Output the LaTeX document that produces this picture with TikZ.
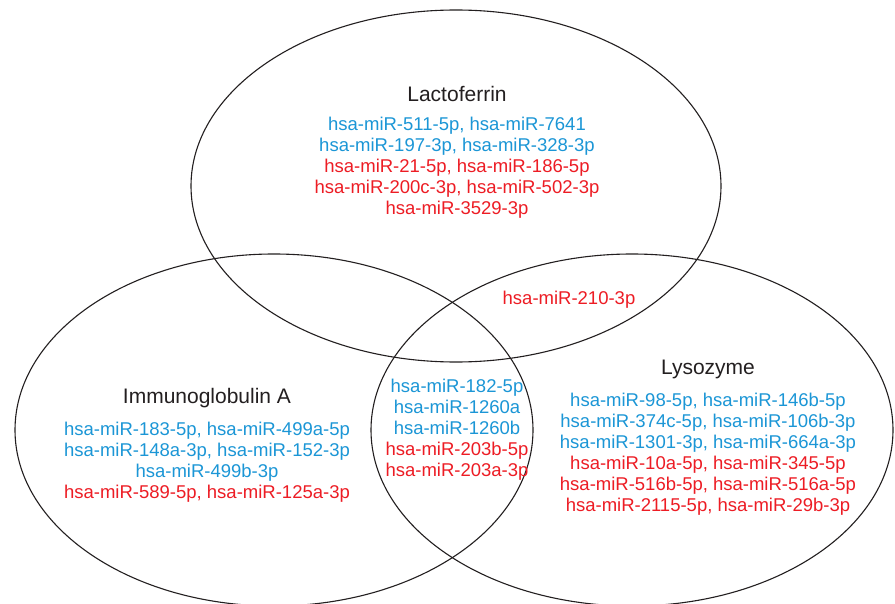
\documentclass[tikz,border=0pt]{standalone}
\usepackage{fontspec}
\setmainfont{Liberation Sans}
\definecolor{mirblue}{RGB}{27,150,214}
\definecolor{mirred}{RGB}{237,28,36}
\definecolor{inkgray}{RGB}{35,31,32}
\begin{document}
\begin{tikzpicture}[x=1pt, y=-1pt,
    setname/.style={text=inkgray, font=\fontsize{21}{24}\selectfont},
    mirlist/.style={align=center, font=\fontsize{18.5}{21}\selectfont}]
    \useasboundingbox (0,0) rectangle (895,604);
    \fill[white] (0,0) rectangle (895,604);
    \clip (0,0) rectangle (895,604);

    % The three sets
    \draw[inkgray, line width=1.1pt] (456,186) ellipse [x radius=265, y radius=176];
    \draw[inkgray, line width=1.1pt] (274,430) ellipse [x radius=259, y radius=176];
    \draw[inkgray, line width=1.1pt] (632,430) ellipse [x radius=261, y radius=176];

    % Set names
    \node[setname] (lf)  at (457,94)  {Lactoferrin};
    \node[setname] (iga) at (207,398) {Immunoglobulin A};
    \node[setname] (lyz) at (708,369) {Lysozyme};

    % miRNA lists (blue and red)
    \node[mirlist] (lfmir) at (457,168) {%
        \textcolor{mirblue}{hsa-miR-511-5p, hsa-miR-7641}\\
        \textcolor{mirblue}{hsa-miR-197-3p, hsa-miR-328-3p}\\
        \textcolor{mirred}{hsa-miR-21-5p, hsa-miR-186-5p}\\
        \textcolor{mirred}{hsa-miR-200c-3p, hsa-miR-502-3p}\\
        \textcolor{mirred}{hsa-miR-3529-3p}};
    \node[mirlist] (lflyz) at (569,300) {\textcolor{mirred}{hsa-miR-210-3p}};
    \node[mirlist] (allmir) at (457,430) {%
        \textcolor{mirblue}{hsa-miR-182-5p}\\
        \textcolor{mirblue}{hsa-miR-1260a}\\
        \textcolor{mirblue}{hsa-miR-1260b}\\
        \textcolor{mirred}{hsa-miR-203b-5p}\\
        \textcolor{mirred}{hsa-miR-203a-3p}};
    \node[mirlist] (igamir) at (207,462) {%
        \textcolor{mirblue}{hsa-miR-183-5p, hsa-miR-499a-5p}\\
        \textcolor{mirblue}{hsa-miR-148a-3p, hsa-miR-152-3p}\\
        \textcolor{mirblue}{hsa-miR-499b-3p}\\
        \textcolor{mirred}{hsa-miR-589-5p, hsa-miR-125a-3p}};
    \node[mirlist] (lyzmir) at (708,454.5) {%
        \textcolor{mirblue}{hsa-miR-98-5p, hsa-miR-146b-5p}\\
        \textcolor{mirblue}{hsa-miR-374c-5p, hsa-miR-106b-3p}\\
        \textcolor{mirblue}{hsa-miR-1301-3p, hsa-miR-664a-3p}\\
        \textcolor{mirred}{hsa-miR-10a-5p, hsa-miR-345-5p}\\
        \textcolor{mirred}{hsa-miR-516b-5p, hsa-miR-516a-5p}\\
        \textcolor{mirred}{hsa-miR-2115-5p, hsa-miR-29b-3p}};
\end{tikzpicture}
\end{document}
